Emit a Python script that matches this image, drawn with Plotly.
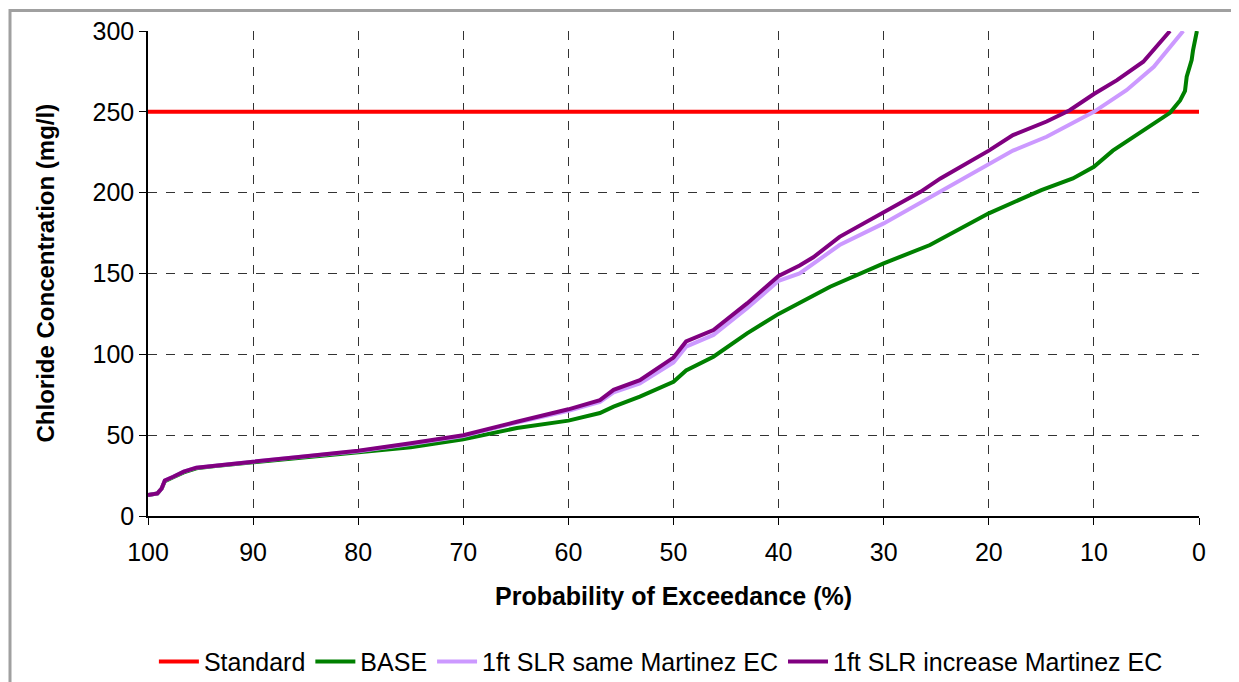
import plotly.graph_objects as go

# Standard
std_x = [100, 0]
std_y = [250, 250]

# BASE
base_p = [100, 99.1, 98.7, 98.4, 97.6, 96.6, 95.4, 93.8, 90, 85.9, 80, 75, 70, 64.9, 60, 57, 55.7,
          53.2, 50, 48.8, 46.2, 43, 40, 35.1, 30, 25.6, 20, 17, 15, 12, 10, 8.2, 6.2, 4, 2.76, 1.8,
          1.33, 1.17, 0.7, 0.57, 0.2]
base_v = [13, 14, 17, 21.5, 24, 27, 29.5, 30.8, 33.2, 35.8, 39.4, 42.5, 47.5, 54.4, 59, 63.7, 67.6,
          73.8, 83, 90, 98.5, 113, 125, 141.8, 156.3, 167.6, 187.2, 196, 201.6, 208.8, 216, 226, 234.6,
          243.8, 249.4, 257, 263, 271.7, 282, 288, 300]

# 1ft SLR same Martinez EC
same_p = [100, 99.1, 98.7, 98.4, 97.6, 96.6, 95.4, 93.8, 90, 85.9, 80, 75, 70, 64.9, 60, 57, 55.7,
          53.2, 50, 48.8, 46.2, 43, 40, 38, 34.2, 30, 24.6, 20, 17.7, 14.5, 12, 10, 6.9, 4.3, 1.5]
same_v = [13, 14, 17, 22, 24.3, 27.4, 29.9, 31.1, 33.6, 36.3, 40.1, 44.5, 49.5, 57.8, 65, 70.5, 76.5,
          82, 95, 104.7, 112, 128.5, 145.5, 150, 167.6, 181, 200.5, 217, 226, 234.6, 242.8, 250,
          263.4, 277.9, 300]

# 1ft SLR increase Martinez EC
inc_p = [100, 99.1, 98.7, 98.4, 97.6, 96.6, 95.4, 93.8, 90, 85.9, 80, 75, 70, 64.9, 60, 57, 55.7,
         53.2, 50, 48.8, 46.2, 43, 40, 38, 36.7, 34.2, 30, 26.5, 24.6, 20, 17.7, 14.5, 12.3, 10,
         7.8, 5.3, 2.76]
inc_v = [13, 14, 17, 22, 24.3, 27.4, 29.9, 31.1, 33.6, 36.3, 40.3, 45, 50, 58.3, 66, 71.7, 78,
         84, 98, 108, 115, 131.5, 148.5, 155, 160, 172.7, 188, 200.5, 208.8, 226, 235.6, 244, 251,
         261, 269.6, 281, 300]

x_ticks = list(range(0, 101, 10))
y_ticks = list(range(0, 301, 50))

FONT = "Liberation Sans, Arial, sans-serif"
FS = 25
LW = 4

fig = go.Figure()
fig.add_trace(go.Scatter(x=std_x, y=std_y, mode="lines", name="Standard",
                         line=dict(color="#ff0000", width=LW)))
fig.add_trace(go.Scatter(x=base_p, y=base_v, mode="lines", name="BASE",
                         line=dict(color="#008000", width=LW)))
fig.add_trace(go.Scatter(x=same_p, y=same_v, mode="lines", name="1ft SLR same Martinez EC",
                         line=dict(color="#cc99ff", width=LW)))
fig.add_trace(go.Scatter(x=inc_p, y=inc_v, mode="lines", name="1ft SLR increase Martinez EC",
                         line=dict(color="#800080", width=LW)))

fig.update_layout(
    width=1231, height=674,
    margin=dict(l=140, r=40, t=23, b=166, autoexpand=False),
    paper_bgcolor="white", plot_bgcolor="white",
    font=dict(family=FONT, size=FS, color="black"),
    showlegend=True,
    legend=dict(orientation="h", xref="paper", x=0.488, xanchor="center",
                yref="container", y=0.03, yanchor="middle",
                font=dict(size=FS), bgcolor="rgba(0,0,0,0)", itemwidth=40, traceorder="normal"),
    xaxis=dict(range=[100, 0], tickvals=x_ticks, ticks="outside", ticklen=7, tickcolor="black",
               showgrid=True, gridcolor="#333333", griddash="dash", gridwidth=1,
               showline=True, linecolor="black", linewidth=1.5, zeroline=False,
               tickfont=dict(size=FS), automargin=False, ticklabelstandoff=6),
    yaxis=dict(range=[0, 300], tickvals=y_ticks, ticks="outside", ticklen=7, tickcolor="black",
               showgrid=True, gridcolor="#333333", griddash="dash", gridwidth=1,
               showline=True, linecolor="black", linewidth=1.5, zeroline=False,
               tickfont=dict(size=FS), automargin=False),
    annotations=[
        dict(text="<b>Probability of Exceedance (%)</b>", xref="paper", yref="paper",
             x=0.5, y=-0.165, xanchor="center", yanchor="middle", showarrow=False,
             font=dict(size=FS)),
        dict(text="<b>Chloride Concentration (mg/l)</b>", xref="paper", yref="paper",
             x=-0.098, y=0.5, xanchor="center", yanchor="middle", showarrow=False,
             textangle=-90, font=dict(size=24)),
    ],
    shapes=[
        dict(type="rect", xref="paper", yref="paper", x0=-0.1313, x1=1.05, y0=1.0423, y1=-0.40,
             line=dict(color="#a0a0a0", width=3), fillcolor="rgba(0,0,0,0)", layer="below"),
    ],
)

fig.write_html("out.html")
